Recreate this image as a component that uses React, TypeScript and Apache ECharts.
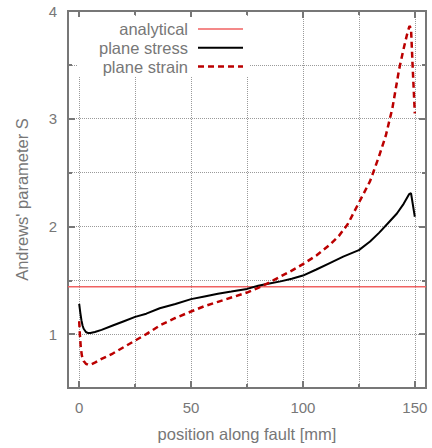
import React, { useEffect, useRef } from "react";
import * as echarts from "echarts";

// ---- data ----
const seriesNames = ["analytical", "plane stress", "plane strain"];

const analyticalValue = 1.44;

const stressX = [0, 0.5, 1, 1.5, 2, 3, 4, 5, 7, 10, 15, 20, 25, 30, 36, 43, 50, 56, 62, 68, 75, 80, 85, 90, 95, 100, 106, 112, 118, 125, 130, 134, 138, 142, 145, 147.5, 148.3, 150];
const stressY = [1.28, 1.2, 1.13, 1.08, 1.05, 1.02, 1.01, 1.01, 1.02, 1.04, 1.08, 1.12, 1.16, 1.19, 1.24, 1.28, 1.325, 1.35, 1.375, 1.395, 1.42, 1.45, 1.47, 1.49, 1.515, 1.544, 1.6, 1.66, 1.72, 1.78, 1.86, 1.94, 2.03, 2.12, 2.21, 2.3, 2.31, 2.09];

const strainX = [0, 0.3, 0.7, 1.2, 2, 3, 4, 5.5, 7, 10, 15, 20, 25, 30, 36, 43, 50, 56, 62, 68, 75, 80, 85, 90, 95, 100, 106, 112, 116, 120, 125, 130, 134, 137, 140, 143, 145, 146.5, 147.6, 148.3, 149, 150];
const strainY = [1.12, 1.0, 0.88, 0.8, 0.75, 0.725, 0.715, 0.72, 0.735, 0.77, 0.82, 0.88, 0.94, 1.0, 1.08, 1.15, 1.21, 1.26, 1.3, 1.34, 1.386, 1.43, 1.48, 1.535, 1.59, 1.65, 1.73, 1.83, 1.91, 2.02, 2.22, 2.42, 2.65, 2.84, 3.1, 3.46, 3.65, 3.78, 3.86, 3.84, 3.5, 3.05];

const xMin = -5;
const xMax = 155;
const yMin = 0.5;
const yMax = 4;
const xMajorTicks = [0, 50, 100, 150];
const xMinorTicks = [25, 75, 125];
const xTickLabels = [0, 50, 100, 150];
const yMajorTicks = [1, 2, 3, 4];
const yMinorTicks = [1.5, 2.5, 3.5];
const yTickLabels = [1, 2, 3, 4];

const FONT = "'Liberation Sans', Arial, sans-serif";
const GREY = "#777777";
const GRID_GREY = "#9a9a9a";
const COLORS = ["#f06262", "#000000", "#bb0000"];
const WIDTHS = [1.5, 2, 2.5];
const DASHES: (number[] | null)[] = [null, null, [6, 4]];

function zip(xs: number[], ys: number[]) {
  return xs.map((x, i) => [x, ys[i]]);
}

export default function App() {
  const ref = useRef<HTMLDivElement>(null);

  useEffect(() => {
    if (!ref.current) return;
    const chart = echarts.init(ref.current, undefined, { renderer: "svg" });

    const axisLine = () => ({ show: true, onZero: false, lineStyle: { color: GREY, width: 2 } });
    const noLine = () => ({ show: false, onZero: false });
    const splitLine = () => ({ show: true, lineStyle: { color: GRID_GREY, width: 1, type: "dotted" } });
    const tick = (len: number, values: number[]) => ({
      show: true,
      inside: true,
      length: len,
      customValues: values,
      lineStyle: { color: GREY, width: 2 },
    });

    const xBase = () => ({ type: "value", min: xMin, max: xMax, gridIndex: 0 });
    const yBase = () => ({ type: "value", min: yMin, max: yMax, gridIndex: 0 });

    // key box (drawn as graphic elements, gnuplot style: text then sample)
    const keyTop = 29;
    const keyStep = 18.8;
    const keyElements: any[] = [
      {
        type: "rect",
        z: 50,
        shape: { x: 77, y: 17, width: 173, height: 59 },
        style: { fill: "#ffffff", stroke: null },
      },
    ];
    seriesNames.forEach((name, i) => {
      const y = keyTop + i * keyStep;
      keyElements.push({
        type: "text",
        z: 51,
        x: 188,
        y,
        style: {
          text: name,
          align: "right",
          verticalAlign: "middle",
          fontSize: 16.5,
          fontFamily: FONT,
          fill: GREY,
        },
      });
      const ls: any = { stroke: COLORS[i], lineWidth: WIDTHS[i] };
      if (DASHES[i]) ls.lineDash = DASHES[i];
      keyElements.push({ type: "line", z: 51, shape: { x1: 198, y1: y, x2: 243, y2: y }, style: ls });
    });

    chart.setOption({
      animation: false,
      backgroundColor: "#ffffff",
      grid: {
        left: 68,
        top: 11,
        width: 358,
        height: 377,
        containLabel: false,
        outerBoundsMode: "none",
        show: true,
        borderColor: GREY,
        borderWidth: 2,
        backgroundColor: "transparent",
      },
      graphic: keyElements,
      xAxis: [
        {
          ...xBase(),
          position: "bottom",
          axisLine: axisLine(),
          axisTick: tick(7, xMajorTicks),
          axisLabel: { show: true, customValues: xTickLabels, color: GREY, fontSize: 15, fontFamily: FONT, margin: 12 },
          splitLine: splitLine(),
          name: "position along fault [mm]",
          nameLocation: "middle",
          nameGap: 37,
          nameMoveOverlap: false,
          nameTextStyle: { fontSize: 16.5, color: GREY, fontFamily: FONT },
        },
        {
          ...xBase(),
          position: "bottom",
          axisLine: noLine(),
          axisTick: tick(4, xMinorTicks),
          axisLabel: { show: false },
          splitLine: splitLine(),
        },
        {
          ...xBase(),
          position: "top",
          axisLine: axisLine(),
          axisTick: tick(7, xMajorTicks),
          axisLabel: { show: false },
          splitLine: { show: false },
        },
        {
          ...xBase(),
          position: "top",
          axisLine: noLine(),
          axisTick: tick(4, xMinorTicks),
          axisLabel: { show: false },
          splitLine: { show: false },
        },
      ],
      yAxis: [
        {
          ...yBase(),
          position: "left",
          axisLine: axisLine(),
          axisTick: tick(7, yMajorTicks),
          axisLabel: { show: true, customValues: yTickLabels, color: GREY, fontSize: 15, fontFamily: FONT, margin: 11 },
          splitLine: splitLine(),
          name: "Andrews' parameter S",
          nameLocation: "middle",
          nameGap: 38,
          nameMoveOverlap: false,
          nameTextStyle: { fontSize: 16.5, color: GREY, fontFamily: FONT },
        },
        {
          ...yBase(),
          position: "left",
          axisLine: noLine(),
          axisTick: tick(4, yMinorTicks),
          axisLabel: { show: false },
          splitLine: splitLine(),
        },
        {
          ...yBase(),
          position: "right",
          axisLine: axisLine(),
          axisTick: tick(7, yMajorTicks),
          axisLabel: { show: false },
          splitLine: { show: false },
        },
        {
          ...yBase(),
          position: "right",
          axisLine: noLine(),
          axisTick: tick(4, yMinorTicks),
          axisLabel: { show: false },
          splitLine: { show: false },
        },
      ],
      series: [
        {
          name: seriesNames[0],
          type: "line",
          xAxisIndex: 0,
          yAxisIndex: 0,
          symbol: "none",
          data: [[xMin, analyticalValue], [xMax, analyticalValue]],
          lineStyle: { color: COLORS[0], width: WIDTHS[0] },
          itemStyle: { color: COLORS[0] },
          z: 2,
        },
        {
          name: seriesNames[1],
          type: "line",
          xAxisIndex: 0,
          yAxisIndex: 0,
          symbol: "none",
          data: zip(stressX, stressY),
          lineStyle: { color: COLORS[1], width: WIDTHS[1] },
          itemStyle: { color: COLORS[1] },
          z: 3,
        },
        {
          name: seriesNames[2],
          type: "line",
          xAxisIndex: 0,
          yAxisIndex: 0,
          symbol: "none",
          data: zip(strainX, strainY),
          lineStyle: { color: COLORS[2], width: WIDTHS[2], type: DASHES[2] },
          itemStyle: { color: COLORS[2] },
          z: 4,
        },
      ],
    });

    return () => chart.dispose();
  }, []);

  return (
    <div
      ref={ref}
      style={{ position: "fixed", left: 0, top: 0, width: 432, height: 448, background: "#fff" }}
    />
  );
}
